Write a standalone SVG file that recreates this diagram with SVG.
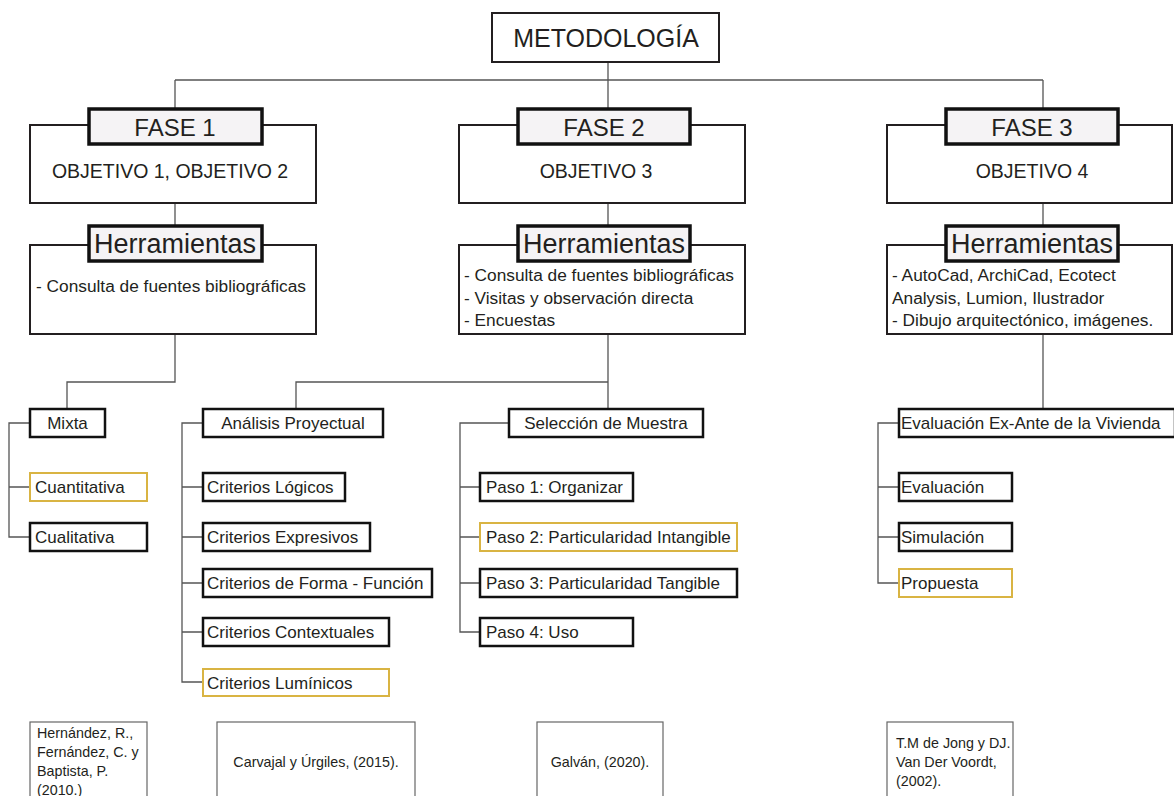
<svg xmlns="http://www.w3.org/2000/svg" width="1174" height="796" viewBox="0 0 1174 796">
<style>
text{font-family:"Liberation Sans",Arial,sans-serif;fill:#231f20}
.outer{fill:#fff;stroke:#231f20;stroke-width:2}
.lab{fill:#f5f3f5;stroke:#111;stroke-width:3.5}
.bx{fill:#fff;stroke:#111;stroke-width:2.5}
.yl{fill:#fff;stroke:#d9b443;stroke-width:2}
.ref{fill:#fff;stroke:#666;stroke-width:1.2}
.con{fill:none;stroke:#555;stroke-width:1.3}
.t17{font-size:17px}
.t14{font-size:14.3px}
.mid{text-anchor:middle}
</style>
<rect width="1174" height="796" fill="#fff"/>
<g id="connectors" class="con">
<path d="M608,62V109M175,80H1043M175,80V109M1043,80V109"/>
<path d="M175,203V228M608,203V228M1043,203V228"/>
<path d="M175,334V382H67V409"/>
<path d="M608,334V409M608,382H296V409"/>
<path d="M1043,334V409"/>
<path d="M30,423H9V537H30M9,487H30"/>
<path d="M203,423H182V682H203M182,487H203M182,537H203M182,583H203M182,632H203"/>
<path d="M509,423H460V632H480M460,487H480M460,537H480M460,583H480"/>
<path d="M899,423H878V583H899M878,487H899M878,537H899"/>
</g>
<g id="metodologia">
<rect x="492" y="13" width="227" height="49" class="outer"/>
<text x="606" y="47" class="mid" font-size="25">METODOLOGÍA</text>
</g>
<g id="fase1">
<rect x="30" y="125" width="286" height="78" class="outer"/>
<rect x="89" y="109" width="173" height="35" class="lab"/>
<text x="175" y="136" class="mid" font-size="24">FASE 1</text>
<text x="170" y="178" class="mid" font-size="19.5">OBJETIVO 1, OBJETIVO 2</text>
</g>
<g id="fase2">
<rect x="459" y="125" width="286" height="78" class="outer"/>
<rect x="518" y="109" width="172" height="35" class="lab"/>
<text x="604" y="136" class="mid" font-size="24">FASE 2</text>
<text x="596" y="178" class="mid" font-size="19.5">OBJETIVO 3</text>
</g>
<g id="fase3">
<rect x="887" y="125" width="285" height="78" class="outer"/>
<rect x="946" y="109" width="172" height="35" class="lab"/>
<text x="1032" y="136" class="mid" font-size="24">FASE 3</text>
<text x="1032" y="178" class="mid" font-size="19.5">OBJETIVO 4</text>
</g>
<g id="herr1">
<rect x="30" y="245" width="286" height="89" class="outer"/>
<rect x="89" y="226" width="173" height="35" class="lab"/>
<text x="175" y="253" class="mid" font-size="27">Herramientas</text>
<text x="36" y="292" font-size="17.3">- Consulta de fuentes bibliográficas</text>
</g>
<g id="herr2">
<rect x="459" y="245" width="286" height="89" class="outer"/>
<rect x="518" y="226" width="172" height="35" class="lab"/>
<text x="604" y="253" class="mid" font-size="27">Herramientas</text>
<text x="464" y="281" font-size="17.3">- Consulta de fuentes bibliográficas</text>
<text x="464" y="304" font-size="17.3">- Visitas y observación directa</text>
<text x="464" y="326" font-size="17.3">- Encuestas</text>
</g>
<g id="herr3">
<rect x="887" y="245" width="285" height="89" class="outer"/>
<rect x="946" y="226" width="172" height="35" class="lab"/>
<text x="1032" y="253" class="mid" font-size="27">Herramientas</text>
<text x="892" y="281" font-size="17.3">- AutoCad, ArchiCad, Ecotect</text>
<text x="892" y="304" font-size="17.3">Analysis, Lumion, Ilustrador</text>
<text x="892" y="326" font-size="17.3">- Dibujo arquitectónico, imágenes.</text>
</g>
<g id="mixta"><rect x="30" y="409" width="75" height="28" class="bx"/><text x="67.5" y="429" class="mid t17">Mixta</text></g>
<g id="cuantitativa"><rect x="30" y="473" width="117" height="28" class="yl"/><text x="35" y="493" class="t17">Cuantitativa</text></g>
<g id="cualitativa"><rect x="30" y="523" width="117" height="28" class="bx"/><text x="35" y="543" class="t17">Cualitativa</text></g>
<g id="analisis"><rect x="203" y="409" width="180" height="28" class="bx"/><text x="293" y="429" class="mid t17">Análisis Proyectual</text></g>
<g id="logicos"><rect x="203" y="473" width="142" height="28" class="bx"/><text x="207" y="493" class="t17">Criterios Lógicos</text></g>
<g id="expresivos"><rect x="203" y="523" width="167" height="28" class="bx"/><text x="207" y="543" class="t17">Criterios Expresivos</text></g>
<g id="forma"><rect x="203" y="569" width="229" height="28" class="bx"/><text x="207" y="589" class="t17">Criterios de Forma - Función</text></g>
<g id="contextuales"><rect x="203" y="618" width="186" height="28" class="bx"/><text x="207" y="638" class="t17">Criterios Contextuales</text></g>
<g id="luminicos"><rect x="203" y="669" width="186" height="27" class="yl"/><text x="207" y="689" class="t17">Criterios Lumínicos</text></g>
<g id="seleccion"><rect x="509" y="409" width="194" height="28" class="bx"/><text x="606" y="429" class="mid t17">Selección de Muestra</text></g>
<g id="paso1"><rect x="480" y="473" width="153" height="28" class="bx"/><text x="486" y="493" class="t17">Paso 1: Organizar</text></g>
<g id="paso2"><rect x="480" y="523" width="257" height="28" class="yl"/><text x="486" y="543" class="t17">Paso 2: Particularidad Intangible</text></g>
<g id="paso3"><rect x="480" y="569" width="257" height="28" class="bx"/><text x="486" y="589" class="t17">Paso 3: Particularidad Tangible</text></g>
<g id="paso4"><rect x="480" y="618" width="153" height="28" class="bx"/><text x="486" y="638" class="t17">Paso 4: Uso</text></g>
<g id="evaluacionexante"><rect x="899" y="409" width="276" height="28" class="bx"/><text x="901" y="429" class="t17">Evaluación Ex-Ante de la Vivienda</text></g>
<g id="evaluacion"><rect x="899" y="473" width="113" height="28" class="bx"/><text x="901" y="493" class="t17">Evaluación</text></g>
<g id="simulacion"><rect x="899" y="523" width="113" height="28" class="bx"/><text x="901" y="543" class="t17">Simulación</text></g>
<g id="propuesta"><rect x="899" y="569" width="113" height="28" class="yl"/><text x="901" y="589" class="t17">Propuesta</text></g>
<g id="ref1"><rect x="30" y="722" width="117" height="80" class="ref"/>
<text x="37" y="738" class="t14">Hernández, R.,</text>
<text x="37" y="757" class="t14">Fernández, C. y</text>
<text x="37" y="776" class="t14">Baptista, P.</text>
<text x="37" y="795" class="t14">(2010.)</text></g>
<g id="ref2"><rect x="217" y="722" width="198" height="80" class="ref"/><text x="316" y="767" class="mid t14">Carvajal y Úrgiles, (2015).</text></g>
<g id="ref3"><rect x="537" y="722" width="126" height="80" class="ref"/><text x="600" y="767" class="mid t14">Galván, (2020).</text></g>
<g id="ref4"><rect x="887" y="722" width="126" height="80" class="ref"/>
<text x="896" y="748" class="t14">T.M de Jong y DJ.</text>
<text x="896" y="767" class="t14">Van Der Voordt,</text>
<text x="896" y="786" class="t14">(2002).</text></g>
</svg>
